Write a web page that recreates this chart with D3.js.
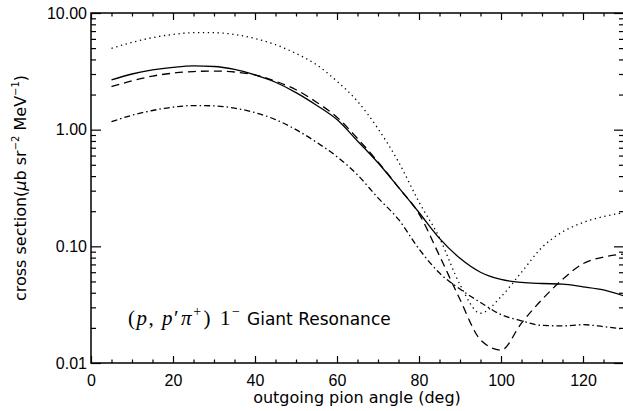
<!DOCTYPE html>
<html lang="en">
<head>
  <meta charset="UTF-8">
  <title>Giant Resonance cross section</title>
  <style>
    body { margin: 0; background: #fff; }
    svg { display: block; font-family: "DejaVu Sans", sans-serif; }
    .tick text { font-size: 16px; fill: #000; }
  </style>
  <script src="https://d3js.org/d3.v7.min.js"></script>
</head>
<body>
  <svg id="chart"></svg>
  <script>
    // outgoing pion angle (deg) where curves were read
    const angles = [5, 10, 15, 20, 25, 30, 35, 40, 45, 50, 55, 60, 65, 70, 75, 80, 85, 90, 95, 100, 105, 110, 115, 120, 125, 130];

    const solidVals = [2.67, 3.0, 3.25, 3.42, 3.52, 3.48, 3.28, 2.95, 2.55, 2.08, 1.62, 1.22, 0.80, 0.52, 0.32, 0.195, 0.117, 0.079, 0.060, 0.052, 0.049, 0.048, 0.0475, 0.045, 0.0423, 0.0376];
    const dashedVals = [2.34, 2.62, 2.88, 3.05, 3.15, 3.18, 3.12, 2.95, 2.6, 2.2, 1.72, 1.28, 0.84, 0.53, 0.32, 0.19, 0.083, 0.035, 0.0158, 0.0129, 0.022, 0.035, 0.052, 0.071, 0.081, 0.086];
    const dottedVals = [4.98, 5.6, 6.15, 6.55, 6.78, 6.78, 6.55, 6.05, 5.35, 4.5, 3.6, 2.6, 1.75, 1.02, 0.53, 0.24, 0.118, 0.047, 0.0267, 0.037, 0.06, 0.098, 0.133, 0.16, 0.18, 0.194];
    const dashDotVals = [1.17, 1.33, 1.46, 1.56, 1.61, 1.6, 1.53, 1.4, 1.22, 1.0, 0.78, 0.587, 0.41, 0.26, 0.17, 0.095, 0.059, 0.043, 0.033, 0.026, 0.023, 0.021, 0.0208, 0.0213, 0.0205, 0.0195];

    const xMajor = [0, 20, 40, 60, 80, 100, 120];
    const yMajor = [0.01, 0.1, 1, 10];

    const W = 623, H = 411;
    const plot = { left: 91, right: 624, top: 13, bottom: 363 };

    const svg = d3.select("#chart").attr("width", W).attr("height", H);

    const x = d3.scaleLinear().domain([0, 130]).range([plot.left, plot.right]);
    const y = d3.scaleLog().domain([0.01, 10]).range([plot.bottom, plot.top]);

    const xMinor = d3.range(0, 131, 5).filter(d => d % 20 !== 0);
    const yMinor = [];
    yMajor.slice(0, -1).forEach(d => { for (let k = 2; k <= 9; k++) yMinor.push(d * k); });

    // frame
    svg.append("rect")
      .attr("x", plot.left).attr("y", plot.top)
      .attr("width", plot.right - plot.left).attr("height", plot.bottom - plot.top)
      .attr("fill", "none").attr("stroke", "#000").attr("stroke-width", 1.5);

    function styleAxis(g) {
      g.select(".domain").remove();
      g.selectAll(".tick line").attr("stroke", "#000").attr("stroke-width", 1.2);
    }

    // bottom axis, inward ticks
    svg.append("g").attr("transform", `translate(0,${plot.bottom})`)
      .call(d3.axisBottom(x).tickValues(xMajor).tickSizeInner(-7).tickSizeOuter(0).tickPadding(12).tickFormat(d3.format("d")))
      .call(styleAxis);
    svg.append("g").attr("transform", `translate(0,${plot.bottom})`)
      .call(d3.axisBottom(x).tickValues(xMinor).tickSizeInner(-3.5).tickSizeOuter(0).tickFormat(""))
      .call(styleAxis);
    // top axis
    svg.append("g").attr("transform", `translate(0,${plot.top})`)
      .call(d3.axisTop(x).tickValues(xMajor).tickSizeInner(-7).tickSizeOuter(0).tickFormat(""))
      .call(styleAxis);
    svg.append("g").attr("transform", `translate(0,${plot.top})`)
      .call(d3.axisTop(x).tickValues(xMinor).tickSizeInner(-3.5).tickSizeOuter(0).tickFormat(""))
      .call(styleAxis);

    // left axis
    svg.append("g").attr("transform", `translate(${plot.left},0)`)
      .call(d3.axisLeft(y).tickValues(yMajor).tickSizeInner(-10).tickSizeOuter(0).tickPadding(4).tickFormat(d3.format(".2f")))
      .call(styleAxis);
    svg.append("g").attr("transform", `translate(${plot.left},0)`)
      .call(d3.axisLeft(y).tickValues(yMinor).tickSizeInner(-5).tickSizeOuter(0).tickFormat(""))
      .call(styleAxis);
    // right axis
    svg.append("g").attr("transform", `translate(${plot.right},0)`)
      .call(d3.axisRight(y).tickValues(yMajor).tickSizeInner(-10).tickSizeOuter(0).tickFormat(""))
      .call(styleAxis);
    svg.append("g").attr("transform", `translate(${plot.right},0)`)
      .call(d3.axisRight(y).tickValues(yMinor).tickSizeInner(-5).tickSizeOuter(0).tickFormat(""))
      .call(styleAxis);

    // curves
    const series = [
      { vals: solidVals, dash: null },
      { vals: dashedVals, dash: "8,5" },
      { vals: dottedVals, dash: "1.3,3.6" },
      { vals: dashDotVals, dash: "6,3,1.5,3" }
    ];

    const line = d3.line()
      .x(d => x(d[0]))
      .y(d => y(d[1]))
      .curve(d3.curveMonotoneX);

    series.forEach(s => {
      svg.append("path")
        .datum(angles.map((a, i) => [a, s.vals[i]]))
        .attr("d", line)
        .attr("fill", "none")
        .attr("stroke", "#000")
        .attr("stroke-width", 1.3)
        .attr("stroke-dasharray", s.dash);
    });

    // axis titles
    svg.append("text")
      .attr("x", 357).attr("y", 403)
      .attr("text-anchor", "middle")
      .attr("font-size", 16)
      .text("outgoing pion angle (deg)");

    const yt = svg.append("text")
      .attr("transform", `translate(26,${(plot.top + plot.bottom) / 2}) rotate(-90)`)
      .attr("text-anchor", "middle")
      .attr("font-size", 16);
    yt.append("tspan").text("cross section(");
    yt.append("tspan").attr("font-style", "italic").text("μ");
    yt.append("tspan").text("b sr");
    yt.append("tspan").attr("font-size", 10).attr("dy", -7).text("−2");
    yt.append("tspan").attr("dy", 7).text(" MeV");
    yt.append("tspan").attr("font-size", 10).attr("dy", -7).text("−1");
    yt.append("tspan").attr("dy", 7).text(")");

    // annotation
    const ann = svg.append("text")
      .attr("x", 128).attr("y", 325)
      .attr("font-family", "'Liberation Serif', 'DejaVu Serif', serif")
      .attr("font-size", 21)
      .attr("letter-spacing", 1.5);
    ann.append("tspan").text("(");
    ann.append("tspan").attr("font-style", "italic").text("p");
    ann.append("tspan").text(", ");
    ann.append("tspan").attr("font-style", "italic").text("p");
    ann.append("tspan").text("′");
    ann.append("tspan").attr("font-style", "italic").attr("dx", 1).text("π");
    ann.append("tspan").attr("font-size", 14).attr("dy", -9).text("+");
    ann.append("tspan").attr("dy", 9).attr("dx", 1).text(")");
    ann.append("tspan").attr("dx", 8).text("1");
    ann.append("tspan").attr("font-size", 14).attr("dy", -9).text("−");

    svg.append("text")
      .attr("x", 247).attr("y", 325)
      .attr("font-size", 17)
      .text("Giant Resonance");
  </script>
</body>
</html>
